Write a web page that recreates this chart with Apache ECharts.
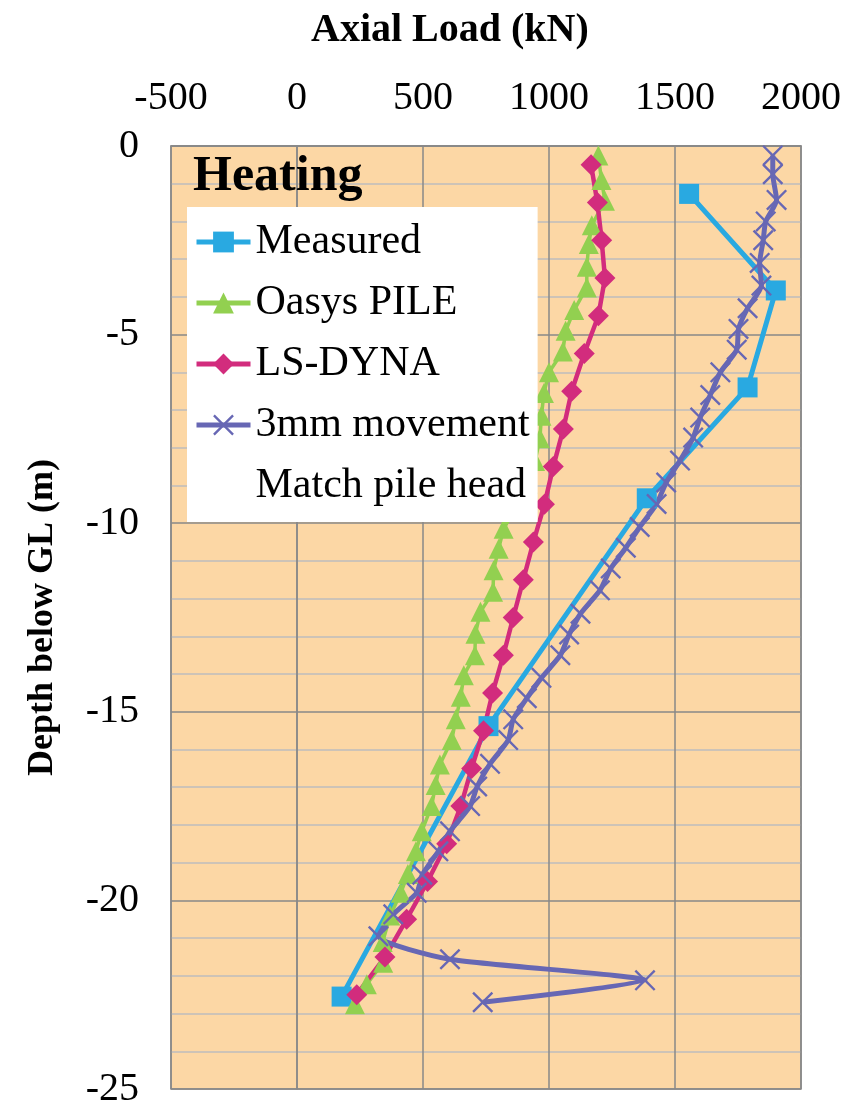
<html>
<head>
<meta charset="utf-8" />
<title>Axial load - heating</title>
<script src="https://cdn.jsdelivr.net/npm/echarts@6/dist/echarts.min.js"></script>
<style type="text/css">
body { margin: 0; background: #fff; }
#main { width: 859px; height: 1109px; }
</style>
</head>
<body>
<div id="main"></div>
<script type="text/javascript">
// depth (m) and axial load (kN)
var measuredDepth = [-1.27, -3.83, -6.4, -9.34, -15.38, -22.55];
var measuredLoad = [1556, 1900, 1788, 1388, 760, 177];

var oasysDepth = [-0.25, -0.9, -1.45, -2.1, -2.6, -3.2, -3.75, -4.35, -4.9, -5.45,
	-6.0, -6.55, -7.15, -7.75, -8.35, -8.95, -9.55, -10.15, -10.68, -11.25,
	-11.82, -12.35, -12.93, -13.5, -14.03, -14.6, -15.2, -15.75, -16.4, -16.94,
	-17.5, -18.17, -18.7, -19.3, -19.8, -20.4, -21.1, -21.65, -22.22, -22.75];
var oasysLoad = [1196, 1208, 1222, 1170, 1158, 1150, 1150, 1100, 1066, 1055,
	1000, 980, 970, 964, 945, 915, 870, 820, 800, 780,
	778, 728, 708, 706, 662, 650, 630, 614, 567, 550,
	534, 495, 472, 440, 412, 370, 340, 342, 277, 230];

var lsDepth = [-0.5, -1.5, -2.5, -3.5, -4.5, -5.5, -6.5, -7.5, -8.5, -9.5, -10.5, -11.5,
	-12.5, -13.5, -14.5, -15.5, -16.5, -17.5, -18.5, -19.5, -20.5, -21.5, -22.5];
var lsLoad = [1167, 1192, 1209, 1222, 1196, 1140, 1090, 1057, 1017, 982, 938, 898,
	858, 819, 776, 740, 693, 650, 594, 518, 435, 349, 237];

var moveDepth = [-0.25, -0.75, -1.43, -2.0, -2.5, -3.1, -3.7, -4.3, -4.85, -5.4,
	-6.0, -6.6, -7.2, -7.73, -8.34, -8.92, -9.49, -10.1, -10.65, -11.2,
	-11.78, -12.4, -12.95, -13.5, -14.1, -14.64, -15.2, -15.75, -16.38, -16.98,
	-17.5, -18.17, -18.7, -19.32, -19.8, -20.37, -20.95, -21.56, -22.12, -22.7];
var moveLoad = [1888, 1888, 1903, 1860, 1850, 1836, 1843, 1788, 1752, 1745,
	1680, 1640, 1600, 1572, 1520, 1465, 1427, 1360, 1305, 1245,
	1202, 1125, 1080, 1045, 970, 912, 858, 838, 766, 715,
	687, 607, 561, 497, 475, 382, 323, 607, 1381, 737];

var seriesNames = ["Measured", "Oasys PILE", "LS-DYNA", "3mm movement", "Match pile head"];

function pairs(load, depth) {
	var out = [];
	for (var i = 0; i < load.length; i++) {
		out.push([load[i], depth[i]]);
	}
	return out;
}

var serif = "Liberation Serif";
// thin X drawn as a filled outline
var crossPath = "path://M0,1.6L1.6,0L10,8.4L18.4,0L20,1.6L11.6,10L20,18.4L18.4,20L10,11.6L1.6,20L0,18.4L8.4,10Z";

var myChart = echarts.init(document.getElementById("main"));

option = {
	backgroundColor: "#fff",
	animation: false,
	title: {
		text: "Axial Load (kN)",
		left: 306,
		top: 6,
		textStyle: { fontFamily: serif, fontSize: 40, fontWeight: "bold", color: "#000" },
	},
	graphic: [{
		type: "text",
		left: 193,
		top: 152,
		z: 10,
		style: { text: "Heating", font: 'bold 50px "Liberation Serif"', fill: "#000" },
	}],
	legend: {
		orient: "vertical",
		left: 187,
		top: 207,
		selectedMode: false,
		backgroundColor: "#fff",
		padding: [14, 8, 15, 7],
		itemGap: 19,
		itemWidth: 54,
		itemHeight: 26,
		lineStyle: { width: 5 },
		textStyle: { fontFamily: serif, fontSize: 42, color: "#000" },
		data: seriesNames,
	},
	grid: {
		left: 171,
		right: 58,
		top: 146,
		bottom: 17,
		show: true,
		backgroundColor: "#FCD7A5",
		borderColor: "#888",
		borderWidth: 1.5,
	},
	xAxis: {
		type: "value",
		position: "top",
		min: -500,
		max: 2000,
		interval: 500,
		axisLine: { show: true, lineStyle: { color: "#888", width: 1.5 } },
		axisTick: { show: false },
		axisLabel: {
			fontFamily: serif, fontSize: 40, color: "#000", margin: 28,
			formatter: function (v) { return String(v); },
		},
		splitLine: { show: true, lineStyle: { color: "#888", width: 1.5 } },
	},
	yAxis: {
		type: "value",
		min: -25,
		max: 0,
		interval: 5,
		name: "Depth below GL (m)",
		nameLocation: "middle",
		nameGap: 110,
		nameTextStyle: { fontFamily: serif, fontSize: 36, fontWeight: "bold", color: "#000" },
		axisLine: { show: true, lineStyle: { color: "#888", width: 1.5 } },
		axisTick: { show: false },
		axisLabel: { fontFamily: serif, fontSize: 40, color: "#000", margin: 32 },
		splitLine: { show: true, lineStyle: { color: "#888", width: 1.5 } },
		minorTick: { show: false, splitNumber: 5 },
		minorSplitLine: { show: true, lineStyle: { color: "#BDBDBD", width: 1.5 } },
	},
	series: [
		{
			name: seriesNames[0],
			type: "line",
			data: pairs(measuredLoad, measuredDepth),
			symbol: "rect",
			symbolSize: 20,
			itemStyle: { color: "#29A9E1" },
			lineStyle: { color: "#29A9E1", width: 5 },
		},
		{
			name: seriesNames[1],
			type: "line",
			data: pairs(oasysLoad, oasysDepth),
			symbol: "triangle",
			symbolSize: 20,
			itemStyle: { color: "#92D050" },
			lineStyle: { color: "#92D050", width: 3.5 },
		},
		{
			name: seriesNames[2],
			type: "line",
			data: pairs(lsLoad, lsDepth),
			symbol: "diamond",
			symbolSize: 21,
			itemStyle: { color: "#D22C7D" },
			lineStyle: { color: "#D22C7D", width: 4.5 },
		},
		{
			name: seriesNames[3],
			type: "line",
			data: pairs(moveLoad, moveDepth),
			symbol: crossPath,
			symbolSize: 21,
			smooth: 0.2,
			itemStyle: { color: "#6767B4" },
			lineStyle: { color: "#6767B4", width: 5 },
		},
		{
			// second legend line, no marks
			name: seriesNames[4],
			type: "line",
			data: [],
			itemStyle: { color: "rgba(0,0,0,0)" },
			lineStyle: { color: "rgba(0,0,0,0)" },
		},
	],
};

myChart.setOption(option);
</script>
</body>
</html>
